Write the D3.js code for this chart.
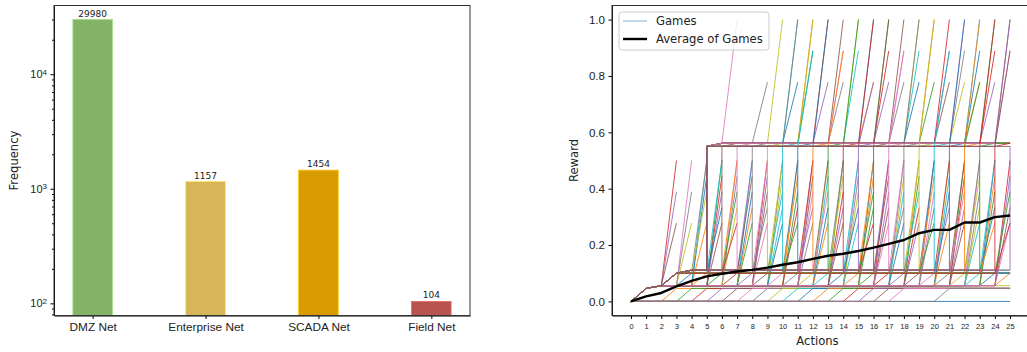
<!DOCTYPE html>
<html>
<head>
<meta charset="utf-8">
<script src="https://cdn.jsdelivr.net/npm/d3@7"></script>
<style>
  body { margin: 0; background: #fff; }
  svg { font-family: "DejaVu Sans", sans-serif; }
</style>
</head>
<body>
<div id="chart"></div>
<script>
// ---------- left panel: frequency per network ----------
const networks = ["DMZ Net", "Enterprise Net", "SCADA Net", "Field Net"];
const frequency = [29980, 1157, 1454, 104];
const barColors = ["#82b366", "#d6b656", "#d79b00", "#b85450"];
const freqTicks = [100, 1000, 10000];
const freqMinorTicks = [80, 90, 200, 300, 400, 500, 600, 700, 800, 900,
  2000, 3000, 4000, 5000, 6000, 7000, 8000, 9000, 20000, 30000];

// ---------- right panel: reward per action ----------
const actionTicks = [0, 1, 2, 3, 4, 5, 6, 7, 8, 9, 10, 11, 12, 13, 14, 15, 16, 17, 18, 19, 20, 21, 22, 23, 24, 25];
const rewardTicks = [0, 0.2, 0.4, 0.6, 0.8, 1.0];
const avgReward = [0, .018, .03, .053, .073, .089, .098, .106, .112, .12, .13, .139, .151,
  .162, .169, .179, .191, .204, .218, .242, .254, .254, .28, .28, .299, .305];

// reward plateaus the games sit on
const r1 = .046, r2 = .056, r3 = .1, r4 = .111, r5 = .55, r6 = .561;
// shared starts of the games
const baseRoute = [[0, 0], [1, r1], [2, r2]];
const midRoute = [[0, 0], [1, r1], [2, r2], [3, r3]];
const upperRoute = [[0, 0], [1, r1], [2, r2], [3, r3], [4, r4]];
// action where a zero game picks up r1
const lowSteps = [2, 3, 4, 5, 6, 7, 8, 9, 10, 11, 12, 13, 14, 15, 16, 17, 20];
// action where a game leaves r2 for r3
const riseSteps = [2, 3, 4, 5, 6, 7, 8, 9, 10, 11, 12, 13, 14, 15, 16, 17, 18, 19, 20, 21, 22, 23, 24];
// [last action, final rewards...] of games that jump from r2 and stop
const midStops = [
  [3, .5, .389, .278], [4, .5, .389, .278], [5, .5, .444, .278], [6, .5, .444, .389, .278],
  [7, .5, .444, .333], [8, .5, .389, .333, .278], [9, .5, .444, .389, .278], [10, .5, .444, .333, .278],
  [11, .5, .389, .333], [12, .5, .444, .389, .278], [13, .5, .444, .333, .278], [14, .5, .389, .333, .278],
  [15, .5, .444, .389, .278], [16, .5, .444, .333], [17, .5, .389, .333, .278], [18, .5, .444, .389, .278],
  [19, .5, .444, .333, .278], [20, .5, .389, .333], [21, .5, .444, .389, .278], [22, .5, .444, .333, .278],
  [23, .5, .389, .333, .278], [24, .5, .444, .389], [25, .5, .444, .333, .278]
];
// [last action, final rewards...] of games that jump from r3 and stop
const midStopsHigh = [
  [5, .5, .389], [6, .5, .333], [7, .5, .389, .278], [8, .5, .444], [9, .5, .333],
  [10, .5, .389], [11, .5, .444, .278], [12, .5, .333], [13, .5, .389], [14, .5, .444],
  [15, .5, .333], [16, .5, .389, .278], [17, .5, .444], [18, .5, .333], [19, .5, .389],
  [20, .5, .444, .278], [21, .5, .333], [22, .5, .389], [23, .5, .444], [24, .5, .333, .278],
  [25, .389, .278]
];
// action where a game climbs from r4 to r5
const climbSteps = [5, 6, 7, 8, 9, 10, 11, 12, 13, 14, 15, 16, 17, 18, 19, 20, 21, 22, 23, 24, 25];
// [last action, final rewards...] of games that jump from r6 and stop
const topStops = [
  [7, 1], [9, .778], [10, 1], [11, 1, .778], [12, 1, .889], [13, 1, .778], [14, 1, .889, .778],
  [15, 1, .889], [16, 1, .778], [17, 1, .889, .778], [18, 1, .889, .778], [19, 1, .889, .778],
  [20, 1, .778], [21, 1, .889, .778], [22, 1, .889, .778], [23, 1, .889, .778], [24, 1, .889, .778],
  [25, 1, .889]
];
// [last action, final rewards...] of games that jump from r5 and stop
const topStopsLow = [
  [11, 1], [12, 1, .889], [13, 1], [14, .889], [15, 1], [16, 1, .778], [17, 1], [18, .889],
  [19, 1], [20, 1], [21, .889], [22, 1], [23, 1, .778], [24, 1], [25, 1, .889]
];

const tab10 = d3.schemeCategory10;

// build the game paths from the pieces above
const games = [];
games.push([[0, 0], [25, 0]]);
lowSteps.forEach(k => games.push([[0, 0], [k, 0], [k + 1, r1], [25, r1]]));
games.push([...baseRoute, [25, r2]]);
riseSteps.forEach(k => games.push([...baseRoute, [k, r2], [k + 1, r3], [25, r3]]));
games.push([...upperRoute, [25, r4]]);
midStops.forEach(([n, ...vals]) => vals.forEach(v => games.push([...baseRoute, [n - 1, r2], [n, v]])));
midStopsHigh.forEach(([n, ...vals]) => vals.forEach(v => games.push([...midRoute, [n - 1, r3], [n, v]])));
climbSteps.forEach(k => games.push(k < 25
  ? [...upperRoute, [k, r4], [k, r5], [k + 1, r6], [25, r6]]
  : [...upperRoute, [k, r4], [k, r5]]));
games.push([...upperRoute, [5, r4], [5, r5], [25, r5]]);
topStops.forEach(([n, ...vals]) => vals.forEach(v =>
  games.push([...upperRoute, [5, r4], [5, r5], [6, r6], [n - 1, r6], [n, v]])));
topStopsLow.forEach(([n, ...vals]) => vals.forEach(v =>
  games.push([...upperRoute, [5, r4], [5, r5], [n - 1, r5], [n, v]])));

const svg = d3.select("#chart").append("svg")
  .attr("width", 1027)
  .attr("height", 352);

// ================= LEFT PANEL =================
const L = {left: 54, right: 470, top: 5.5, bottom: 315.5};

const xb = d3.scaleLinear()
  .domain([-0.3425, 3.3425])
  .range([L.left, L.right]);
const yb = d3.scaleLog()
  .domain([78.3, 39800])
  .range([L.bottom, L.top]);

const barW = xb(0.35) - xb(0);

const left = svg.append("g");

left.selectAll("rect.bar")
  .data(frequency)
  .join("rect")
    .attr("class", "bar")
    .attr("x", (d, i) => xb(i) - barW / 2)
    .attr("y", d => yb(d))
    .attr("width", barW)
    .attr("height", d => L.bottom - yb(d))
    .style("fill", (d, i) => barColors[i])
    .style("stroke", (d, i) => d3.color(barColors[i]).brighter(0.6))
    .style("stroke-width", 0.8);

left.selectAll("text.val")
  .data(frequency)
  .join("text")
    .attr("class", "val")
    .attr("x", (d, i) => xb(i))
    .attr("y", d => yb(d) - 3)
    .attr("text-anchor", "middle")
    .style("font-size", "9px")
    .style("fill", "#222")
    .text(d => d);

// x axis
const xbAxis = left.append("g")
  .attr("transform", `translate(0,${L.bottom})`)
  .call(d3.axisBottom(xb).tickValues([0, 1, 2, 3]).tickFormat(i => networks[i])
    .tickSize(3.5).tickPadding(4).tickSizeOuter(0));
xbAxis.selectAll("text").style("font-size", "11.8px").style("fill", "#222");

// y axis (major + minor)
const ybAxis = left.append("g")
  .attr("transform", `translate(${L.left},0)`)
  .call(d3.axisLeft(yb).tickValues(freqTicks).tickFormat(() => "")
    .tickSize(3.5).tickPadding(3.5).tickSizeOuter(0));
ybAxis.selectAll(".tick text").each(function(d) {
  const t = d3.select(this).style("font-size", "11px").style("fill", "#222");
  t.append("tspan").text("10");
  t.append("tspan").text(Math.round(Math.log10(d)))
    .attr("dy", "-0.45em").style("font-size", "8px");
});
left.append("g")
  .attr("transform", `translate(${L.left},0)`)
  .call(d3.axisLeft(yb).tickValues(freqMinorTicks).tickFormat("").tickSize(2).tickSizeOuter(0))
  .select(".domain").remove();

left.append("text")
  .attr("transform", `translate(18,${(L.top + L.bottom) / 2}) rotate(-90)`)
  .attr("text-anchor", "middle")
  .style("font-size", "11.6px")
  .style("fill", "#222")
  .text("Frequency");

left.append("rect")
  .attr("x", L.left).attr("y", L.top)
  .attr("width", L.right - L.left).attr("height", L.bottom - L.top)
  .style("fill", "none").style("stroke", "#333").style("stroke-width", 1);

// ================= RIGHT PANEL =================
const R = {left: 612, right: 1029, top: 5.5, bottom: 315.5};

const x = d3.scaleLinear()
  .domain([-1.25, 26.25])
  .range([R.left, R.right]);
const y = d3.scaleLinear()
  .domain([-0.05, 1.05])
  .range([R.bottom, R.top]);

const right = svg.append("g");

const gameLine = d3.line()
  .x(d => x(d[0]))
  .y(d => y(d[1]));

right.append("g")
  .selectAll("path")
  .data(games)
  .join("path")
    .attr("d", gameLine)
    .style("fill", "none")
    .style("stroke", (d, i) => tab10[i % 10])
    .style("stroke-width", 1)
    .style("stroke-opacity", 0.85);

right.append("path")
  .datum(avgReward)
  .attr("d", d3.line().x((d, i) => x(actionTicks[i])).y(d => y(d)))
  .style("fill", "none")
  .style("stroke", "#000")
  .style("stroke-width", 2.4)
  .style("stroke-linejoin", "round");

const xAxis = right.append("g")
  .attr("transform", `translate(0,${R.bottom})`)
  .call(d3.axisBottom(x).tickValues(actionTicks).tickFormat(d3.format("d"))
    .tickSize(3.5).tickPadding(5).tickSizeOuter(0));
xAxis.selectAll("text").style("font-size", "7.5px").style("fill", "#222");

const yAxis = right.append("g")
  .attr("transform", `translate(${R.left},0)`)
  .call(d3.axisLeft(y).tickValues(rewardTicks).tickFormat(d3.format(".1f"))
    .tickSize(3.5).tickPadding(3.5).tickSizeOuter(0));
yAxis.selectAll("text").style("font-size", "11.6px").style("fill", "#222");

right.append("text")
  .attr("x", (R.left + R.right) / 2 - 3)
  .attr("y", 345)
  .attr("text-anchor", "middle")
  .style("font-size", "11.6px")
  .style("fill", "#222")
  .text("Actions");

right.append("text")
  .attr("transform", `translate(578,${(R.top + R.bottom) / 2}) rotate(-90)`)
  .attr("text-anchor", "middle")
  .style("font-size", "11.6px")
  .style("fill", "#222")
  .text("Reward");

right.append("rect")
  .attr("x", R.left).attr("y", R.top)
  .attr("width", R.right - R.left).attr("height", R.bottom - R.top)
  .style("fill", "none").style("stroke", "#333").style("stroke-width", 1);

// legend
const legend = right.append("g");
legend.append("rect")
  .attr("x", 619).attr("y", 12).attr("width", 150).attr("height", 38).attr("rx", 3)
  .style("fill", "#fff").style("fill-opacity", 0.8)
  .style("stroke", "#ccc").style("stroke-width", 1);
legend.append("line")
  .attr("x1", 623).attr("x2", 647).attr("y1", 21).attr("y2", 21)
  .style("stroke", tab10[0]).style("stroke-opacity", 0.55).style("stroke-width", 1);
legend.append("line")
  .attr("x1", 623).attr("x2", 647).attr("y1", 39).attr("y2", 39)
  .style("stroke", "#000").style("stroke-width", 2.4);
legend.append("text")
  .attr("x", 656).attr("y", 21).attr("dy", "0.35em")
  .style("font-size", "11.6px").style("fill", "#222")
  .text("Games");
legend.append("text")
  .attr("x", 656).attr("y", 39).attr("dy", "0.35em")
  .style("font-size", "11.6px").style("fill", "#222")
  .text("Average of Games");
</script>
</body>
</html>
